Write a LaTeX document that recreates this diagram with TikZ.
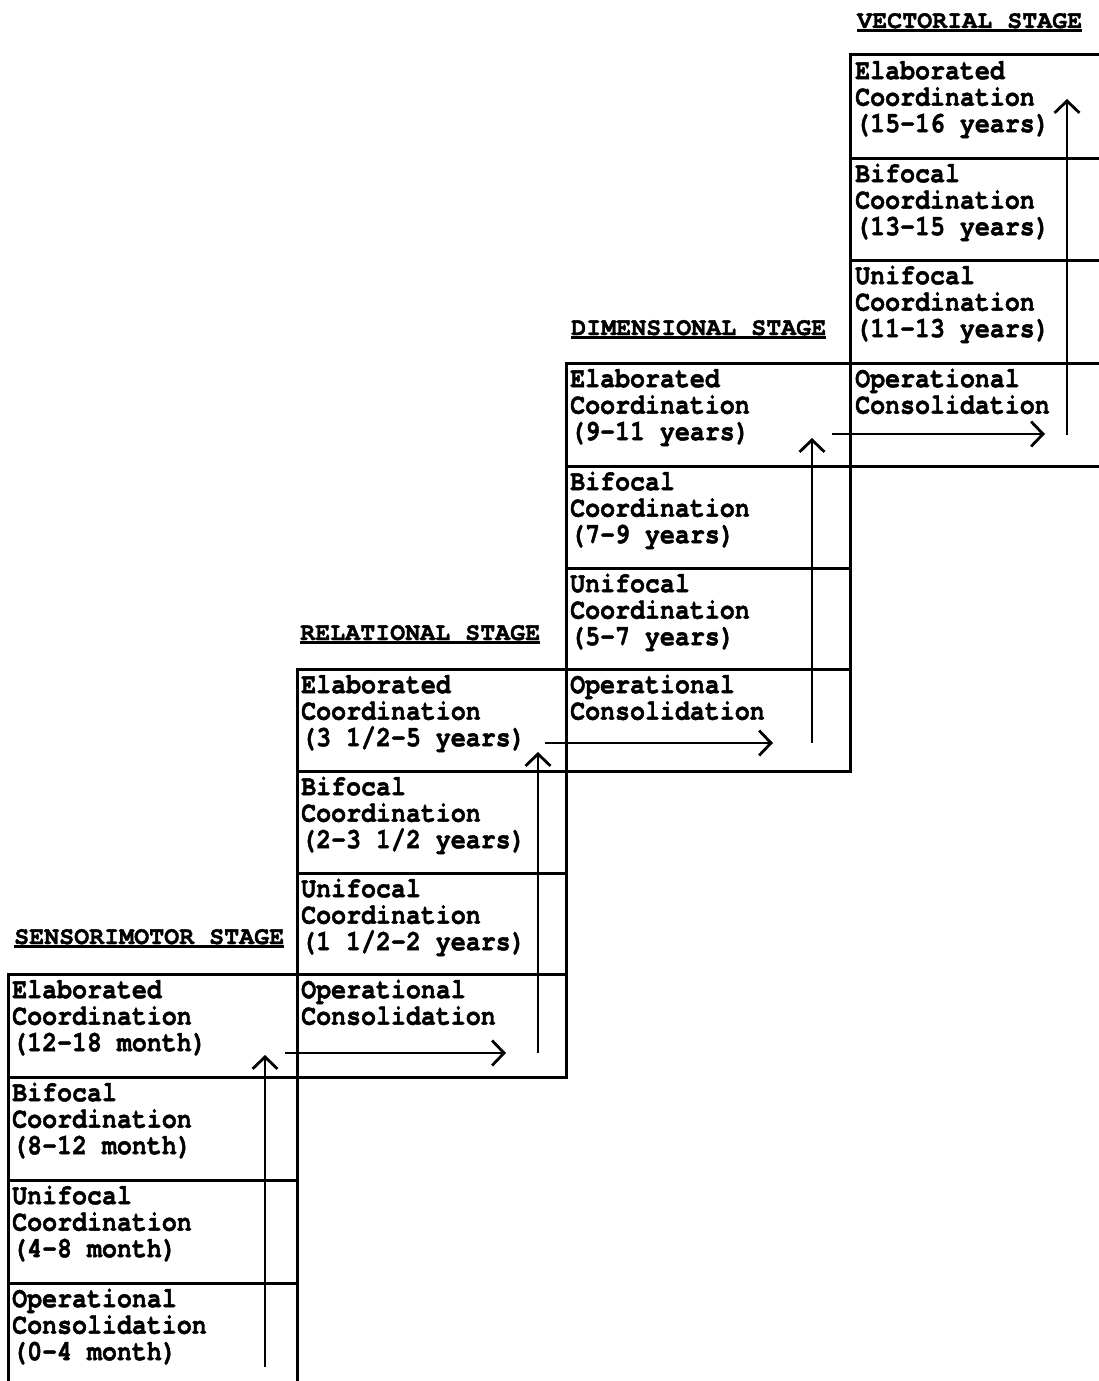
\documentclass[tikz,border=0pt]{standalone}
\usepackage{fontspec}
\newfontfamily\tw{texgyrecursor}[Extension=.otf,UprightFont=*-regular,BoldFont=*-bold,FakeStretch=0.86,FakeBold=1.5]
\newfontfamily\twt{texgyrecursor}[Extension=.otf,UprightFont=*-regular,BoldFont=*-bold,FakeBold=1.5]
\usetikzlibrary{arrows.meta}
\begin{document}
\begin{tikzpicture}[x=1pt,y=-1pt,
  gridline/.style={line width=3pt,line cap=rect},
  cell/.style={anchor=north west,inner sep=0pt,align=left,
    font={\tw\bfseries\fontsize{29pt}{26.5pt}\selectfont}},
  stagetitle/.style={anchor=base west,inner sep=0pt,
    font={\twt\bfseries\fontsize{25pt}{26.5pt}\selectfont}},
  uline/.style={line width=2.4pt},
  flow/.style={line width=2.8pt,-{Straight Barb[length=12pt,width=25pt,line width=2.8pt]}}
]
\useasboundingbox (0,0) rectangle (1099,1381);
\newcommand{\fl}{\rule{0pt}{26pt}}

% ---------- grid lines ----------
\draw[gridline] (850,55) -- (1099,55);
\draw[gridline] (850,158) -- (1099,158);
\draw[gridline] (850,260) -- (1099,260);
\draw[gridline] (566,363) -- (1099,363);
\draw[gridline] (566,466) -- (1099,466);
\draw[gridline] (566,568) -- (850,568);
\draw[gridline] (297,669) -- (850,669);
\draw[gridline] (297,771) -- (850,771);
\draw[gridline] (297,873) -- (566,873);
\draw[gridline] (8,974) -- (566,974);
\draw[gridline] (8,1077) -- (566,1077);
\draw[gridline] (8,1180) -- (297,1180);
\draw[gridline] (8,1283) -- (297,1283);
\draw[gridline] (8,974) -- (8,1381);
\draw[gridline] (297,669) -- (297,1381);
\draw[gridline] (566,363) -- (566,1077);
\draw[gridline] (850,55) -- (850,771);

% ---------- stage titles ----------
\node[stagetitle] (tV) at (857,28) {VECTORIAL STAGE};
\node[stagetitle] (tD) at (571,335) {DIMENSIONAL STAGE};
\node[stagetitle] (tR) at (300,640) {RELATIONAL STAGE};
\node[stagetitle] (tS) at (14,944) {SENSORIMOTOR STAGE};
\foreach \t in {tV,tD,tR,tS}
  \draw[uline] ([yshift=-2.5pt]\t.base west) -- ([yshift=-2.5pt]\t.base east);

% ---------- sensorimotor ----------
\node[cell] (s4) at (12,972)  {\fl Elaborated\\Coordination\\(12-18 month)};
\node[cell] (s3) at (12,1075) {\fl Bifocal\\Coordination\\(8-12 month)};
\node[cell] (s2) at (12,1178) {\fl Unifocal\\Coordination\\(4-8 month)};
\node[cell] (s1) at (12,1281) {\fl Operational\\Consolidation\\(0-4 month)};

% ---------- relational ----------
\node[cell] (r4) at (301,667) {\fl Elaborated\\Coordination\\(3 1/2-5 years)};
\node[cell] (r3) at (301,769) {\fl Bifocal\\Coordination\\(2-3 1/2 years)};
\node[cell] (r2) at (301,871) {\fl Unifocal\\Coordination\\(1 1/2-2 years)};
\node[cell] (r1) at (301,972) {\fl Operational\\Consolidation};

% ---------- dimensional ----------
\node[cell] (d4) at (570,361) {\fl Elaborated\\Coordination\\(9-11 years)};
\node[cell] (d3) at (570,464) {\fl Bifocal\\Coordination\\(7-9 years)};
\node[cell] (d2) at (570,566) {\fl Unifocal\\Coordination\\(5-7 years)};
\node[cell] (d1) at (570,667) {\fl Operational\\Consolidation};

% ---------- vectorial ----------
\node[cell] (v4) at (855,53)  {\fl Elaborated\\Coordination\\(15-16 years)};
\node[cell] (v3) at (855,156) {\fl Bifocal\\Coordination\\(13-15 years)};
\node[cell] (v2) at (855,258) {\fl Unifocal\\Coordination\\(11-13 years)};
\node[cell] (v1) at (855,361) {\fl Operational\\Consolidation};

% ---------- arrow end points ----------
\coordinate (sA) at (265,1367);
\coordinate (sB) at (265,1055);
\coordinate (sC) at (285,1053);
\coordinate (rA) at (506,1053);
\coordinate (rA0) at (538,1053);
\coordinate (rB) at (538,752);
\coordinate (rC) at (545,743);
\coordinate (dA) at (773,743);
\coordinate (dA0) at (812,743);
\coordinate (dB) at (812,438);
\coordinate (dC) at (832,434);
\coordinate (vA) at (1045,434);
\coordinate (vA0) at (1067,435);
\coordinate (vB) at (1067,99);

% ---------- arrows ----------
\draw[flow] (sA) -- (sB);
\draw[flow] (sC) -- (rA);
\draw[flow] (rA0) -- (rB);
\draw[flow] (rC) -- (dA);
\draw[flow] (dA0) -- (dB);
\draw[flow] (dC) -- (vA);
\draw[flow] (vA0) -- (vB);
\end{tikzpicture}
\end{document}
